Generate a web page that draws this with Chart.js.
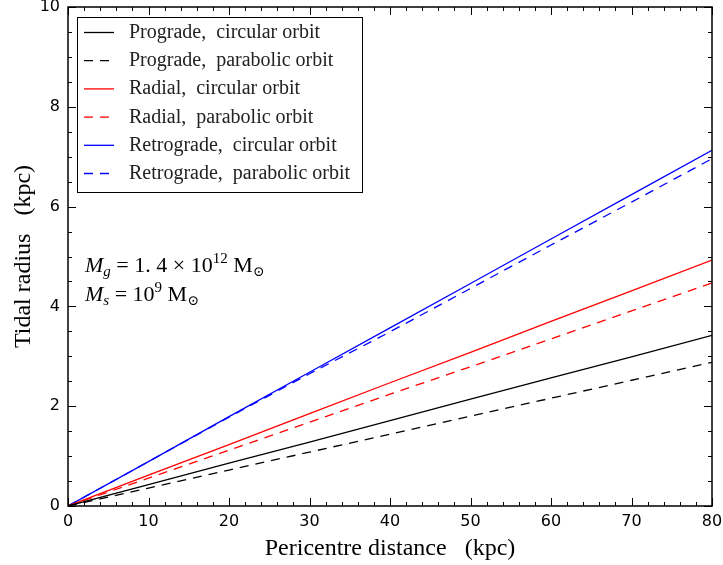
<!DOCTYPE html>
<html>
<head>
<meta charset="utf-8">
<script src="https://cdn.jsdelivr.net/npm/chart.js@4/dist/chart.umd.min.js"></script>
<style>
  html, body { margin: 0; padding: 0; background: #fff; }
  #wrap { width: 723px; height: 565px; }
</style>
</head>
<body>
<div id="wrap"><canvas id="tidalChart" width="723" height="565"></canvas></div>
<script>
// Pericentre distance (kpc)
const distance = [0, 10, 20, 30, 40, 50, 60, 70, 80];

// Tidal radius (kpc)
const progradeCircular  = [0, 0.43, 0.86, 1.28, 1.71, 2.14, 2.57, 2.99, 3.42];
const progradeParabolic = [0, 0.36, 0.72, 1.08, 1.44, 1.80, 2.16, 2.52, 2.88];
const radialCircular    = [0, 0.62, 1.23, 1.85, 2.47, 3.08, 3.70, 4.31, 4.93];
const radialParabolic   = [0, 0.56, 1.12, 1.68, 2.24, 2.79, 3.35, 3.91, 4.47];
const retroCircular     = [0, 0.89, 1.79, 2.68, 3.57, 4.46, 5.35, 6.24, 7.13];
const retroParabolic    = [0, 0.89, 1.78, 2.65, 3.49, 4.36, 5.23, 6.09, 6.96];

const xTicks = [0, 10, 20, 30, 40, 50, 60, 70, 80];
const yTicks = [0, 2, 4, 6, 8, 10];

const seriesLabels = [
  'Prograde,  circular orbit',
  'Prograde,  parabolic orbit',
  'Radial,  circular orbit',
  'Radial,  parabolic orbit',
  'Retrograde,  circular orbit',
  'Retrograde,  parabolic orbit'
];

const DASH = [9, 7];
const SERIF = '"Liberation Serif", "DejaVu Serif", serif';

function makeSet(label, values, color, dashed) {
  return {
    label: label,
    data: distance.map((x, i) => ({ x: x, y: values[i] })),
    borderColor: color,
    borderWidth: 1.3,
    borderDash: dashed ? DASH : [],
    pointRadius: 0,
    tension: 0,
    fill: false
  };
}

// inward ticks on all four sides, legend box and mass annotation
const decorations = {
  id: 'decorations',
  afterDraw(chart) {
    const c = chart.ctx;
    const a = chart.chartArea;
    const xs = chart.scales.x, ys = chart.scales.y;
    c.save();
    c.strokeStyle = '#000';
    c.lineWidth = 1;
    c.beginPath();
    for (let v = 0; v <= 80; v += 2) {
      const px = Math.round(xs.getPixelForValue(v)) + 0.5;
      const len = v % 10 === 0 ? 8 : 4;
      c.moveTo(px, a.bottom); c.lineTo(px, a.bottom - len);
      c.moveTo(px, a.top); c.lineTo(px, a.top + len);
    }
    for (let v = 0; v <= 10; v += 0.5) {
      const py = Math.round(ys.getPixelForValue(v)) + 0.5;
      const len = v % 2 === 0 ? 8 : 4;
      c.moveTo(a.left, py); c.lineTo(a.left + len, py);
      c.moveTo(a.right, py); c.lineTo(a.right - len, py);
    }
    c.stroke();
    // frame
    c.lineWidth = 1.5;
    c.strokeRect(a.left, a.top, a.right - a.left, a.bottom - a.top);

    // legend
    c.lineWidth = 1;
    c.fillStyle = '#fff';
    c.fillRect(77.5, 17.5, 285, 175);
    c.strokeRect(77.5, 17.5, 285, 175);
    c.font = '20px ' + SERIF;
    c.textBaseline = 'alphabetic';
    c.textAlign = 'left';
    chart.data.datasets.forEach((ds, i) => {
      const y = 32 + i * 28.2;
      c.beginPath();
      c.strokeStyle = ds.borderColor;
      c.lineWidth = 1.3;
      c.setLineDash(ds.borderDash);
      c.moveTo(84, y + 0.5); c.lineTo(114, y + 0.5);
      c.stroke();
      c.setLineDash([]);
      c.fillStyle = '#222';
      c.fillText(ds.label, 129, y + 6);
    });

    // mass annotation
    const runs = (x, y, parts) => {
      parts.forEach(p => {
        c.font = (p.it ? 'italic ' : '') + p.s + 'px ' + SERIF;
        c.fillStyle = '#000';
        c.fillText(p.t, x, y + (p.dy || 0));
        x += c.measureText(p.t).width;
      });
    };
    runs(85, 272, [
      { t: 'M', it: true, s: 22 },
      { t: 'g', it: true, s: 15, dy: 4 },
      { t: ' = ', s: 22 },
      { t: '1. 4', s: 22 },
      { t: ' \u00d7 ', s: 22 },
      { t: '10', s: 22 },
      { t: '12', s: 15, dy: -9 },
      { t: ' M', s: 22 },
      { t: '\u2299', s: 14, dy: 4 }
    ]);
    runs(85, 301, [
      { t: 'M', it: true, s: 22 },
      { t: 's', it: true, s: 15, dy: 4 },
      { t: ' = ', s: 22 },
      { t: '10', s: 22 },
      { t: '9', s: 15, dy: -9 },
      { t: ' M', s: 22 },
      { t: '\u2299', s: 14, dy: 4 }
    ]);

    // axis titles
    c.font = '24px ' + SERIF;
    c.fillStyle = '#000';
    c.textAlign = 'center';
    c.fillText('Pericentre distance   (kpc)', (a.left + a.right) / 2, 555);
    c.save();
    c.translate(30, (a.top + a.bottom) / 2);
    c.rotate(-Math.PI / 2);
    c.fillText('Tidal radius   (kpc)', 0, 0);
    c.restore();
    c.restore();
  }
};

const tickFont = { family: '"DejaVu Sans", sans-serif', size: 16 };

new Chart(document.getElementById('tidalChart').getContext('2d'), {
  type: 'line',
  data: {
    datasets: [
      makeSet(seriesLabels[0], progradeCircular, '#000000', false),
      makeSet(seriesLabels[1], progradeParabolic, '#000000', true),
      makeSet(seriesLabels[2], radialCircular, '#ff0000', false),
      makeSet(seriesLabels[3], radialParabolic, '#ff0000', true),
      makeSet(seriesLabels[4], retroCircular, '#0000ff', false),
      makeSet(seriesLabels[5], retroParabolic, '#0000ff', true)
    ]
  },
  options: {
    responsive: false,
    animation: false,
    layout: { padding: { left: 0, top: 7, right: 11, bottom: 0 } },
    plugins: {
      legend: { display: false },
      tooltip: { enabled: false }
    },
    scales: {
      x: {
        type: 'linear',
        min: 0,
        max: 80,
        afterBuildTicks: s => { s.ticks = xTicks.map(v => ({ value: v })); },
        afterFit: s => { s.height = 59; s.paddingLeft = 0; s.paddingRight = 0; },
        grid: { display: false, drawTicks: false },
        border: { display: false },
        ticks: { color: '#000', font: tickFont, padding: 6, maxRotation: 0 }
      },
      y: {
        min: 0,
        max: 10,
        afterBuildTicks: s => { s.ticks = yTicks.map(v => ({ value: v })); },
        afterFit: s => { s.width = 68; s.paddingTop = 0; s.paddingBottom = 0; },
        grid: { display: false, drawTicks: false },
        border: { display: false },
        ticks: { color: '#000', font: tickFont, padding: 8 }
      }
    }
  },
  plugins: [decorations]
});
</script>
</body>
</html>
